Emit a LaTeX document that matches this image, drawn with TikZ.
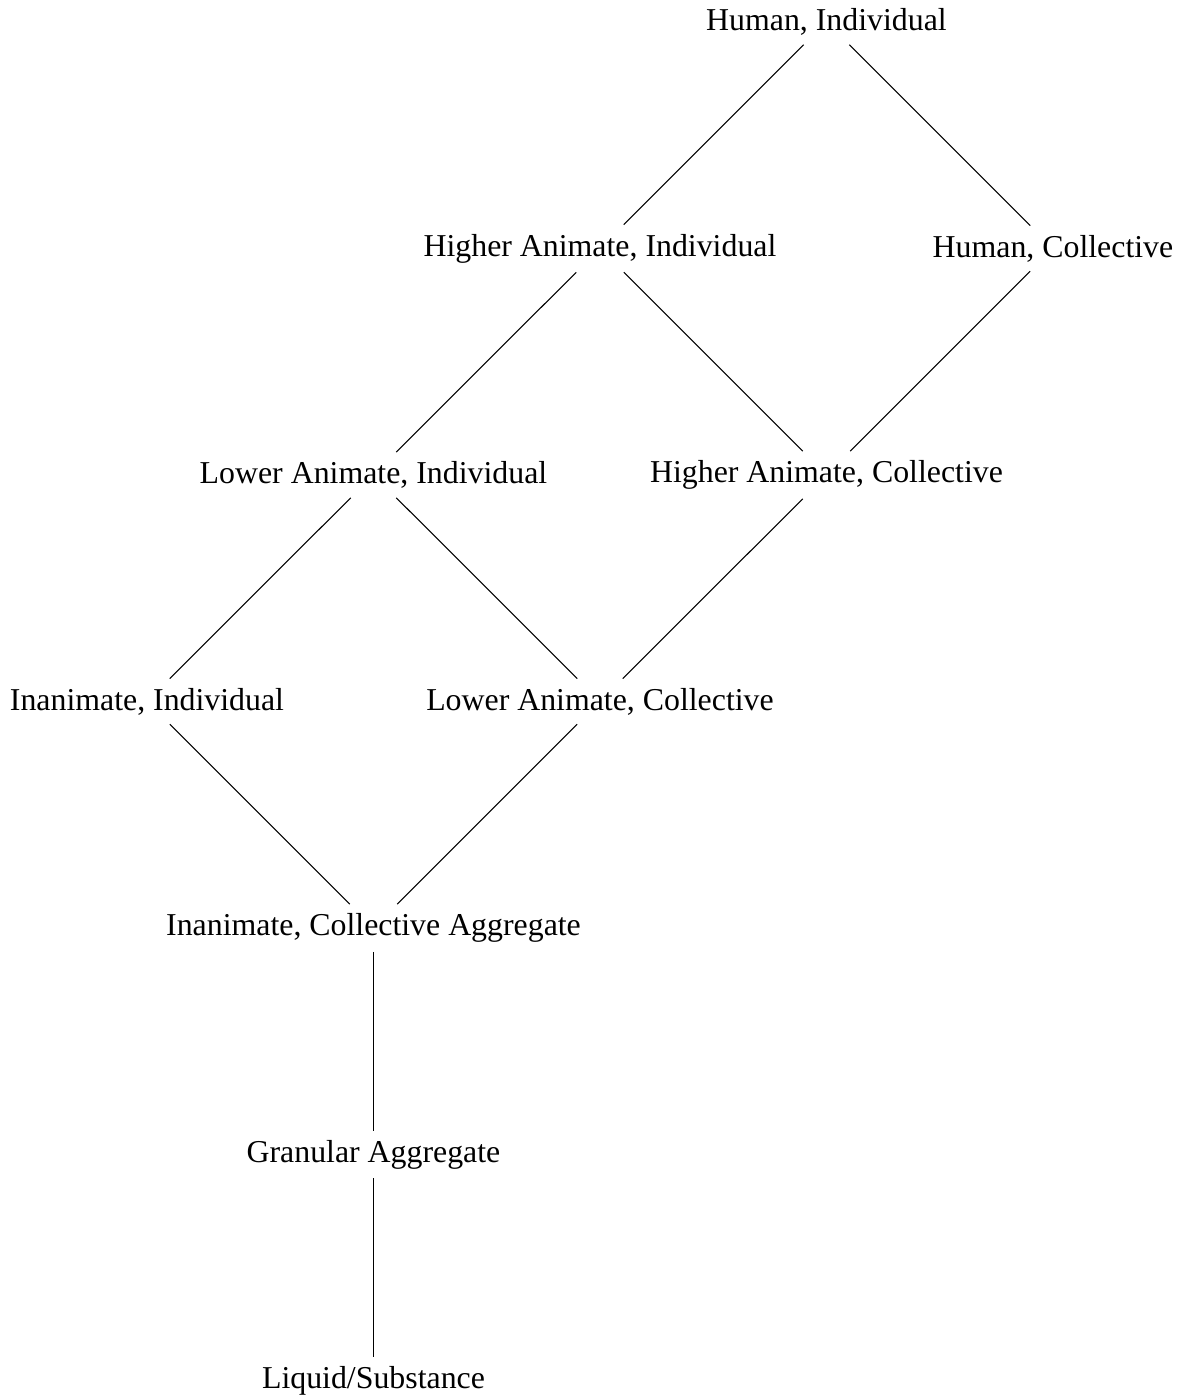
\documentclass[12pt,tikz,border=0pt]{standalone}
\usepackage{fontspec}
\setmainfont{Liberation Serif}
\usepackage{tikz}
\tikzset{
    cat/.style={inner sep=3.33pt},
    link/.style={thin}
}

\begin{document}
\begin{tikzpicture}[x=3cm,y=3cm]
                \useasboundingbox (-0.649,0.097) rectangle (4.600,-6.084);
                \node [cat] (humind) at (3,0) {Human, Individual};
                \node [cat] (hiind) at (2,-1) {Higher Animate, Individual};
                \node [cat] (humcol) at (4,-1) {Human, Collective};
                \node [cat] (loind) at (1,-2) {Lower Animate, Individual};
                \node [cat] (hicol) at (3,-2) {Higher Animate, Collective};
                \node [cat] (inind) at (0,-3) {Inanimate, Individual};
                \node [cat] (locol) at (2,-3) {Lower Animate, Collective};
                \node [cat] (inagg) at (1,-4) {Inanimate, Collective Aggregate};
                \node [cat] (granagg) at (1,-5) {Granular Aggregate};
                \node [cat] (liquid) at (1,-6) {Liquid/Substance};
                \draw [link] (humind) -- (hiind);
                \draw [link] (humind) -- (humcol);
                \draw [link] (hiind) -- (loind);
                \draw [link] (hiind) -- (hicol);
                \draw [link] (humcol) -- (hicol);
                \draw [link] (loind) -- (inind);
                \draw [link] (loind) -- (locol);
                \draw [link] (hicol) -- (locol);
                \draw [link] (inind) -- (inagg);
                \draw [link] (locol) -- (inagg);
                \draw [link] (inagg) -- (granagg);
                \draw [link] (granagg) -- (liquid);
      \end{tikzpicture}
\end{document}
